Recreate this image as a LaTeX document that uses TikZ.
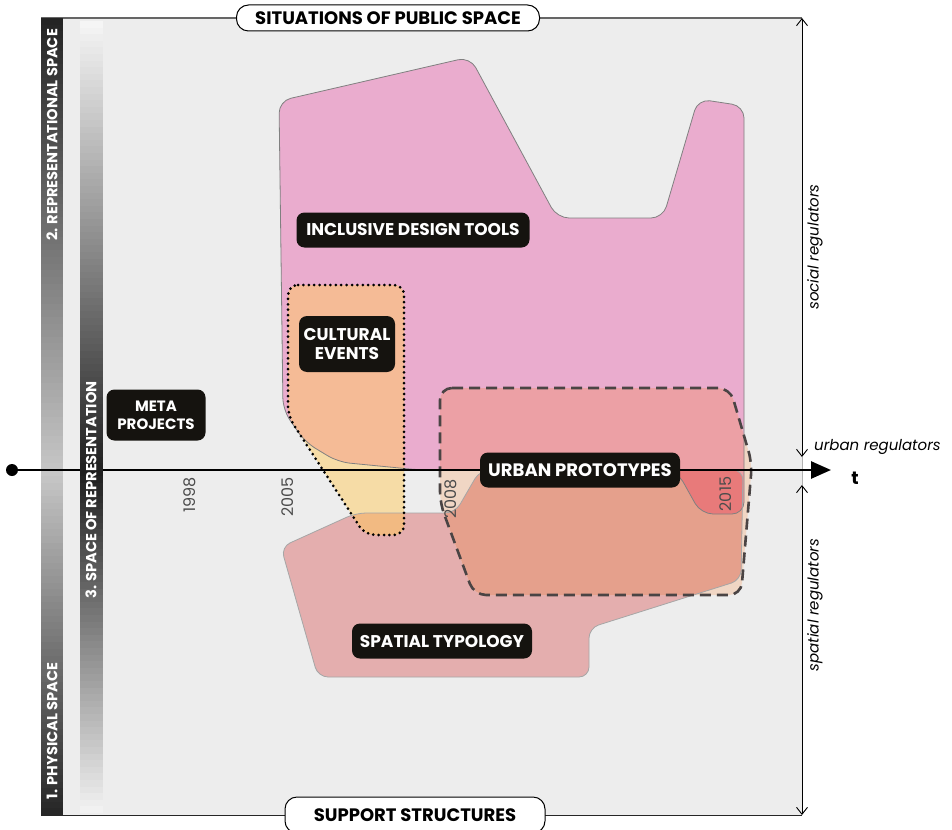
\documentclass[tikz,border=0pt]{standalone}
\usepackage{fontspec}
\setmainfont{Poppins}
\usetikzlibrary{arrows.meta}
\definecolor{bggray}{HTML}{EDEDED}
\definecolor{pinkP}{HTML}{EAACCE}
\definecolor{spatS}{HTML}{E4AEAE}
\definecolor{urbG}{HTML}{F0D6C4}
\definecolor{urbP}{HTML}{ECA0A5}
\definecolor{urbS}{HTML}{E5A08C}
\definecolor{urbPS}{HTML}{E87A7A}
\definecolor{culG}{HTML}{F6DCA6}
\definecolor{culP}{HTML}{F5BB96}
\definecolor{culS}{HTML}{F2BA82}
\definecolor{lblack}{HTML}{15130F}
\definecolor{dashgray}{HTML}{4A4444}
\def\pathP{[rounded corners=12pt] (279,101) -- (470,57) -- (557,218) -- (663,218) -- (698,99) -- (744,106) -- (744,514) -- (701,514) -- (677,471) -- (420,470) -- (338,462) -- (305,442) -- (283,410) -- cycle}
\def\pathS{[rounded corners=10pt] (281,547) -- (356,513) -- (455,513) -- (480,470) -- (743,470) -- (741,580) -- (589,628) -- (589,677) -- (318,677) -- cycle}
\def\pathU{[rounded corners=12pt] (440,388) -- (730,388) -- (752,463) -- (741,595) -- (474,595) -- (440,503) -- cycle}
\def\pathC{[rounded corners=10pt] (288,285) -- (404,285) -- (404,535) -- (365,535) -- (288,416) -- cycle}
\tikzset{
  lbl/.style={fill=lblack, text=white, rounded corners=8pt, font=\bfseries\fontsize{17}{19}\selectfont, align=center, inner sep=0pt},
  pill/.style={fill=white, draw=black, line width=1pt, rounded corners=12pt, font=\bfseries\fontsize{18}{20}\selectfont, inner sep=0pt},
  bartext/.style={text=white, rotate=90, font=\bfseries\fontsize{14.6}{16}\selectfont, inner sep=0pt},
  year/.style={text=black!70, rotate=90, font=\fontsize{16}{16}\selectfont, inner sep=0pt},
  regtext/.style={font=\itshape\fontsize{15}{15}\selectfont, inner sep=0pt},
  dimarrow/.style={line width=0.9pt, {Straight Barb[length=7pt,width=11pt]}-{Straight Barb[length=7pt,width=11pt]}},
  thinedge/.style={line width=0.8pt}
}
\begin{document}
\begin{tikzpicture}[x=1pt,y=-1pt]
\useasboundingbox (0,0) rectangle (952,829);
\begin{scope}
\clip (0,0) rectangle (952,829);
% frame
\fill[bggray] (41,18) rectangle (802,815);
\draw[black!60, line width=1.8pt] (41,18) -- (802,18);
\draw[black!85, line width=1pt] (41,815) -- (802,815);
\draw[black!30, line width=0.8pt] (802,457) -- (802,485);
% bar 1 (gradient)
\foreach \i in {0,...,119}{
  \pgfmathsetmacro\ya{18+\i*6.6417}
  \pgfmathsetmacro\yb{\ya+7.2}
  \pgfmathsetmacro\v{\ya<470 ? (470-\ya)/452 : (\ya-470)/345}
  \pgfmathsetmacro\ca{22+64*\v}
  \fill[black!\ca] (41,\ya) rectangle (63,{min(\yb,815)});
}
% fills
\fill[pinkP] \pathP;
\fill[spatS] \pathS;
\fill[urbG] \pathU;
\begin{scope}
  \clip \pathU;
  \fill[urbP] \pathP;
  \fill[urbS] \pathS;
  \begin{scope}
    \clip \pathP;
    \fill[urbPS] \pathS;
  \end{scope}
\end{scope}
\fill[culG] \pathC;
\begin{scope}
  \clip \pathC;
  \fill[culP] \pathP;
  \fill[culS] \pathS;
\end{scope}
% outlines
\draw[black!50, thinedge] \pathP;
\draw[black!35, thinedge] \pathS;
\draw[dashgray, line width=2.6pt, dash pattern=on 11pt off 6pt] \pathU;
\draw[black, line width=3pt, line cap=round, dash pattern=on 0pt off 5.4pt] \pathC;
% right dimension arrows
\coordinate (s1) at (802,18);
\coordinate (s2) at (802,457);
\coordinate (p1) at (802,485);
\coordinate (p2) at (802,815);
\draw[dimarrow] (s1) -- (s2);
\draw[dimarrow] (p1) -- (p2);
% axis
\node[circle, fill=black, minimum size=12pt, inner sep=0pt] (orig) at (12,470) {};
\coordinate (tend) at (831,470);
\draw[line width=2.6pt, -{Triangle[length=20pt,width=17pt]}] (orig) -- (tend);
\node[font=\bfseries\fontsize{18}{18}\selectfont, inner sep=0pt] (tlab) at (855,478) {t};
% bar 2 (gradient, over axis)
\foreach \i in {0,...,119}{
  \pgfmathsetmacro\ya{21+\i*6.6}
  \pgfmathsetmacro\yb{\ya+7.2}
  \pgfmathsetmacro\v{\ya<470 ? (470-\ya)/449 : (\ya-470)/343}
  \pgfmathsetmacro\cb{88-84*\v}
  \fill[black!\cb] (80,\ya) rectangle (103,{min(\yb,813)});
}
\node[bartext] (b2) at (52,135) {2. REPRESENTATIONAL SPACE};
\node[bartext] (b1) at (52,731) {1. PHYSICAL SPACE};
\node[bartext] (b3) at (91,490) {3. SPACE OF REPRESENTATION};
% labels
\node[lbl, minimum width=233pt, minimum height=35pt] (idt) at (413,230) {INCLUSIVE DESIGN TOOLS};
\node[lbl, minimum width=96pt, minimum height=56pt] (ce) at (347,344) {CULTURAL\\EVENTS};
\node[lbl, minimum width=99pt, minimum height=51pt, font=\bfseries\fontsize{15}{18}\selectfont] (mp) at (156,415) {META\\PROJECTS};
\node[lbl, minimum width=200pt, minimum height=35pt, font=\bfseries\fontsize{18}{20}\selectfont] (up) at (580,470) {URBAN PROTOTYPES};
\node[lbl, minimum width=180pt, minimum height=35pt] (st) at (442,641) {SPATIAL TYPOLOGY};
\node[pill, minimum width=303pt, minimum height=26pt] (sps) at (388,18) {SITUATIONS OF PUBLIC SPACE};
\node[pill, minimum width=260pt, minimum height=36pt] (sup) at (415,815) {SUPPORT STRUCTURES};
% years
\node[year] (y98) at (190,495) {1998};
\node[year] (y05) at (288,497) {2005};
\node[year] (y08) at (451,499) {2008};
\node[year] (y15) at (726,494) {2015};
% regulator texts
\node[regtext, anchor=west] (ur) at (814,447) {urban regulators};
\node[regtext, rotate=90] (sr) at (815,247) {social regulators};
\node[regtext, rotate=90] (pr) at (815,605) {spatial regulators};
\end{scope}
\end{tikzpicture}
\end{document}
